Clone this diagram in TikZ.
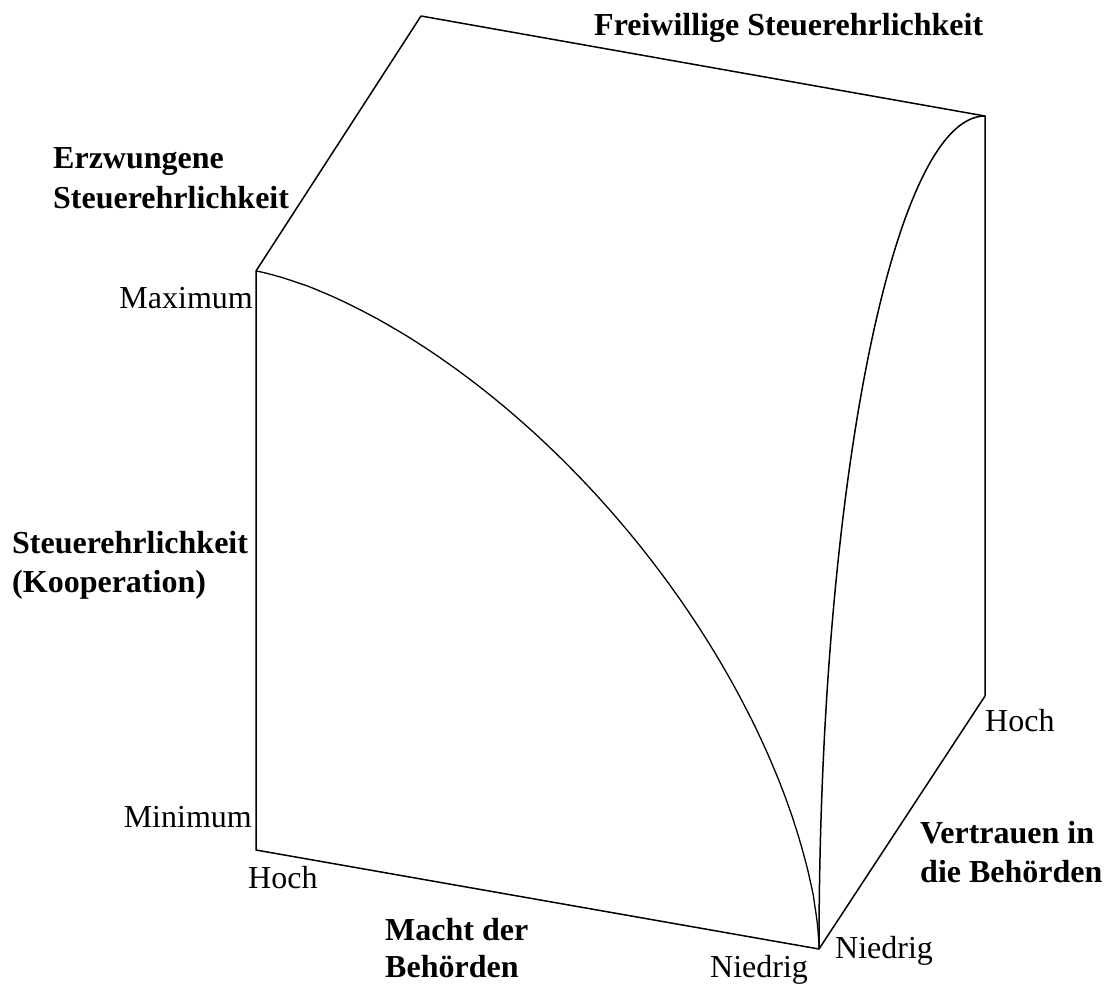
\documentclass[tikz,border=0pt]{standalone}
\usepackage{fontspec}
\setmainfont{Liberation Serif}
\begin{document}
\begin{tikzpicture}[x=1pt,y=-1pt,
  edge/.style={line width=1.5pt, line join=round},
  curve/.style={line width=1.3pt},
  lbl/.style={inner sep=0pt, font=\fontsize{32}{38}\selectfont},
  blbl/.style={inner sep=0pt, font=\fontsize{32}{38}\selectfont\bfseries}]
\useasboundingbox (0,0) rectangle (1111,983);
% corners
\coordinate (A) at (421,16);
\coordinate (B) at (985,116);
\coordinate (C) at (256,271);
\coordinate (D) at (256,850);
\coordinate (E) at (819,949);
\coordinate (F) at (985,696);
% frame
\draw[edge] (A) -- (B) -- (F) -- (E) -- (D) -- (C) -- cycle;
% front curve (superellipse in the front face, corner at D)
\draw[curve] (C) -- plot[domain=0.2:89.8, samples=160]
  ({256 + 563*pow(sin(\x),1.19)}, {850 + 99*pow(sin(\x),1.19) - 579*pow(cos(\x),1.19)}) -- (E);
% right curve (quarter ellipse)
\draw[curve, line width=1.5pt] (E) arc[start angle=180, end angle=90, x radius=166pt, y radius=833pt];
% labels
\node[blbl, anchor=base west] (fst) at (594,35) {Freiwillige Steuerehrlichkeit};
\node[blbl, anchor=base west] (ez1) at (53,168) {Erzwungene};
\node[blbl, anchor=base west] (ez2) at (53,208) {Steuerehrlichkeit};
\node[lbl, anchor=base east] (max) at (253,308) {Maximum};
\node[blbl, anchor=base west] (st1) at (12,553) {Steuerehrlichkeit};
\node[blbl, anchor=base west] (st2) at (12,592) {(Kooperation)};
\node[lbl, anchor=base east] (min) at (252,827) {Minimum};
\node[lbl, anchor=base west] (hoch1) at (248,888) {Hoch};
\node[blbl, anchor=base west] (md1) at (385,940) {Macht der};
\node[blbl, anchor=base west] (md2) at (385,977) {Behörden};
\node[lbl, anchor=base west] (nd1) at (710,977) {Niedrig};
\node[lbl, anchor=base west] (nd2) at (835,958) {Niedrig};
\node[blbl, anchor=base west] (vt1) at (920,843) {Vertrauen in};
\node[blbl, anchor=base west] (vt2) at (920,882) {die Behörden};
\node[lbl, anchor=base west] (hoch2) at (985,731) {Hoch};
\end{tikzpicture}
\end{document}
